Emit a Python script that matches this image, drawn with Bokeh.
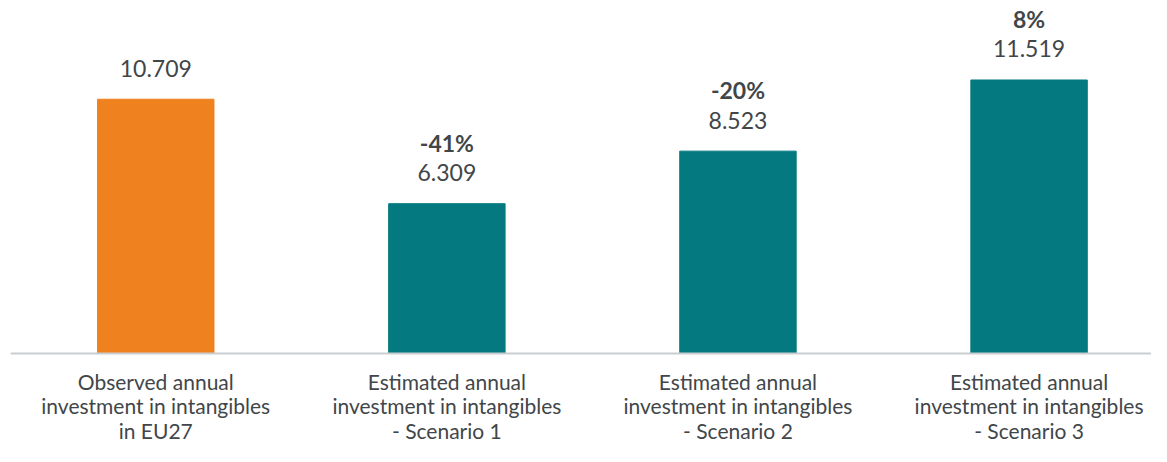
from bokeh.plotting import figure
from bokeh.models import ColumnDataSource, Range1d, Span
from bokeh.core.properties import value
from bokeh.embed import file_html
from bokeh.resources import INLINE

categories = [
    "Observed annual\ninvestment in intangibles\nin EU27",
    "Estimated annual\ninvestment in intangibles\n- Scenario 1",
    "Estimated annual\ninvestment in intangibles\n- Scenario 2",
    "Estimated annual\ninvestment in intangibles\n- Scenario 3",
]
values = [10.709, 6.309, 8.523, 11.519]
value_labels = ["10.709", "6.309", "8.523", "11.519"]
pct_labels = ["", "-41%", "-20%", "8%"]

ORANGE = "#EF821E"
TEAL = "#047A80"
TEXT = "#414649"
FONT = "Lato"

positions = list(range(len(categories)))
colors = [ORANGE, TEAL, TEAL, TEAL]

source = ColumnDataSource(dict(
    x=positions, top=values, color=colors,
    vlabel=value_labels, plabel=pct_labels,
))

p = figure(
    width=1151, height=446,
    x_range=Range1d(-0.499, 3.4206),
    y_range=Range1d(-3.917, 14.53),
    output_backend="svg", toolbar_location=None,
    x_axis_location=None, y_axis_location=None,
    min_border_left=10, min_border_right=0, min_border_top=8,
    min_border_bottom=0,
)
p.outline_line_color = None
p.xgrid.visible = False
p.ygrid.visible = False
p.background_fill_color = "white"
p.border_fill_color = "white"

p.vbar(x="x", top="top", bottom=0, width=0.40, color="color", source=source)

# baseline (category axis line)
p.add_layout(Span(location=0, dimension="width", line_color="#C9CDCF", line_width=2))

p.text(x="x", y="top", text="vlabel", source=source,
       text_align="center", text_baseline="middle", y_offset=-31,
       text_font=value(FONT), text_font_size="23px", text_color=TEXT)
p.text(x="x", y="top", text="plabel", source=source,
       text_align="center", text_baseline="middle", y_offset=-61,
       text_font=value(FONT), text_font_size="23px", text_font_style="bold",
       text_color=TEXT)

# category labels, one text row per line, below the baseline
label_lines = [c.split("\n") for c in categories]
n_lines = max(len(l) for l in label_lines)
for k in range(n_lines):
    row = [l[k] if k < len(l) else "" for l in label_lines]
    p.text(x=positions, y=[0] * len(positions), text=row,
           text_align="center", text_baseline="middle",
           y_offset=28 + 24.5 * k,
           text_font=value(FONT), text_font_size="21px", text_color=TEXT)

open("out.html", "w").write(file_html(p, INLINE))
